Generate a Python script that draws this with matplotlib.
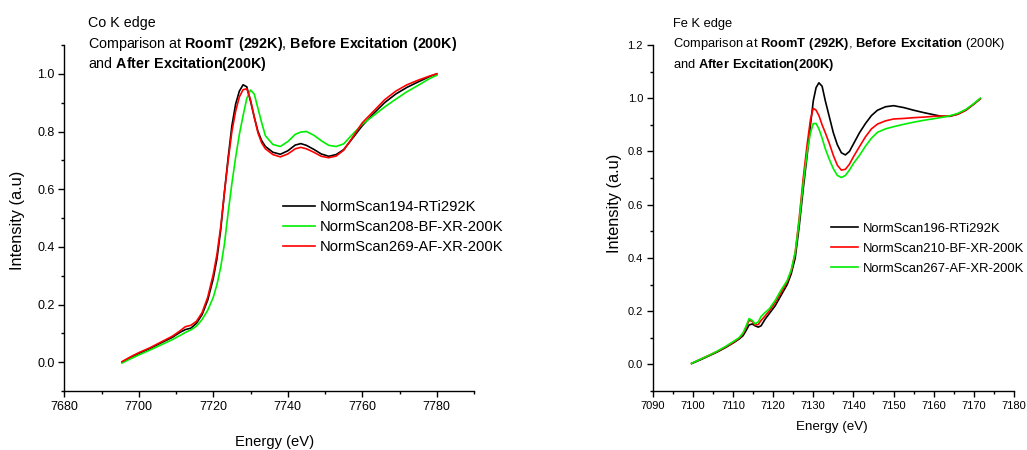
import matplotlib
matplotlib.use("Agg")
import matplotlib.pyplot as plt
from matplotlib.ticker import MultipleLocator

# Co K edge data
co_energy = [7695.5, 7698, 7700, 7703, 7706, 7709, 7711, 7712.5, 7714, 7715.5,
             7717, 7718.5, 7720, 7721, 7722, 7723, 7724, 7725, 7726, 7727,
             7728, 7729, 7730, 7731, 7732, 7733, 7734, 7736, 7738, 7740,
             7742, 7743.5, 7745, 7747, 7749, 7751, 7753, 7755, 7757, 7760,
             7763, 7766, 7769, 7772, 7775, 7778, 7780]
co_rt = [0.000, 0.018, 0.030, 0.047, 0.067, 0.086, 0.103, 0.113, 0.118, 0.135,
         0.165, 0.215, 0.290, 0.360, 0.460, 0.590, 0.710, 0.820, 0.895, 0.940,
         0.962, 0.955, 0.905, 0.850, 0.800, 0.768, 0.748, 0.728, 0.721, 0.733,
         0.753, 0.758, 0.752, 0.738, 0.722, 0.714, 0.720, 0.737, 0.770, 0.820,
         0.862, 0.900, 0.930, 0.953, 0.972, 0.990, 1.000]
co_bf = [-0.003, 0.013, 0.025, 0.042, 0.060, 0.078, 0.092, 0.103, 0.112, 0.125,
         0.148, 0.180, 0.225, 0.270, 0.330, 0.410, 0.520, 0.620, 0.710, 0.790,
         0.855, 0.915, 0.944, 0.930, 0.880, 0.830, 0.785, 0.755, 0.748, 0.765,
         0.790, 0.798, 0.800, 0.787, 0.768, 0.752, 0.748, 0.757, 0.785, 0.825,
         0.855, 0.885, 0.912, 0.938, 0.960, 0.983, 0.995]
co_af = [0.002, 0.020, 0.033, 0.050, 0.070, 0.090, 0.108, 0.123, 0.128, 0.142,
         0.172, 0.225, 0.305, 0.375, 0.470, 0.590, 0.700, 0.800, 0.870, 0.920,
         0.945, 0.948, 0.910, 0.850, 0.795, 0.760, 0.740, 0.720, 0.712, 0.722,
         0.740, 0.745, 0.740, 0.728, 0.714, 0.709, 0.715, 0.735, 0.772, 0.830,
         0.870, 0.910, 0.940, 0.962, 0.978, 0.992, 1.000]
co_labels = ["NormScan194-RTi292K", "NormScan208-BF-XR-200K", "NormScan269-AF-XR-200K"]

# Fe K edge data
fe_energy = [7099.7, 7102, 7104, 7106, 7108, 7110, 7111.5, 7112.5, 7113.3, 7114,
             7114.8, 7115.5, 7116.3, 7117, 7118, 7119, 7120.5, 7122, 7123.5, 7124.5,
             7125.5, 7126.5, 7127.5, 7128.5, 7129.3, 7130, 7130.7, 7131.4, 7132.2, 7133,
             7134, 7135, 7136, 7137, 7138, 7139, 7140, 7141.5, 7143, 7144.5,
             7146, 7148, 7150, 7152.5, 7155, 7157.5, 7160, 7162, 7164, 7166,
             7168, 7170, 7171.6]
fe_rt = [0.003, 0.018, 0.032, 0.046, 0.062, 0.080, 0.095, 0.108, 0.128, 0.148,
         0.152, 0.145, 0.140, 0.145, 0.170, 0.190, 0.220, 0.260, 0.300, 0.340,
         0.400, 0.520, 0.660, 0.790, 0.900, 0.990, 1.040, 1.058, 1.045, 0.990,
         0.930, 0.870, 0.825, 0.795, 0.787, 0.800, 0.828, 0.870, 0.905, 0.935,
         0.955, 0.968, 0.972, 0.965, 0.955, 0.946, 0.938, 0.932, 0.932, 0.940,
         0.955, 0.978, 0.998]
fe_bf = [0.004, 0.020, 0.034, 0.048, 0.064, 0.082, 0.098, 0.115, 0.140, 0.165,
         0.162, 0.148, 0.150, 0.165, 0.182, 0.200, 0.232, 0.270, 0.310, 0.350,
         0.420, 0.550, 0.700, 0.830, 0.920, 0.962, 0.955, 0.935, 0.900, 0.870,
         0.830, 0.785, 0.748, 0.730, 0.733, 0.752, 0.780, 0.818, 0.855, 0.885,
         0.903, 0.915, 0.922, 0.924, 0.927, 0.929, 0.932, 0.933, 0.933, 0.940,
         0.955, 0.978, 0.998]
fe_af = [0.004, 0.020, 0.034, 0.049, 0.066, 0.085, 0.100, 0.118, 0.145, 0.172,
         0.165, 0.152, 0.160, 0.180, 0.195, 0.208, 0.240, 0.280, 0.315, 0.355,
         0.420, 0.540, 0.680, 0.800, 0.870, 0.905, 0.905, 0.885, 0.850, 0.810,
         0.770, 0.735, 0.710, 0.702, 0.710, 0.730, 0.755, 0.785, 0.820, 0.850,
         0.872, 0.885, 0.893, 0.902, 0.910, 0.917, 0.923, 0.928, 0.934, 0.943,
         0.958, 0.980, 1.000]
fe_labels = ["NormScan196-RTi292K", "NormScan210-BF-XR-200K", "NormScan267-AF-XR-200K"]

BLACK, GREEN, RED = "#000000", "#00ee00", "#ff0000"


def style_axes(ax, xmaj, xmin, tick_fs):
    for side in ("top", "right"):
        ax.spines[side].set_visible(False)
    for side in ("left", "bottom"):
        ax.spines[side].set_linewidth(1.0)
    ax.xaxis.set_major_locator(MultipleLocator(xmaj))
    ax.xaxis.set_minor_locator(MultipleLocator(xmin))
    ax.yaxis.set_major_locator(MultipleLocator(0.2))
    ax.yaxis.set_minor_locator(MultipleLocator(0.1))
    ax.yaxis.set_major_formatter(plt.FormatStrFormatter("%.1f"))
    ax.tick_params(which="major", direction="out", length=4, width=1.0,
                   labelsize=tick_fs, pad=3)
    ax.tick_params(which="minor", direction="out", length=2.5, width=1.0)


def main():
    plt.rcParams["font.family"] = ["Liberation Sans", "DejaVu Sans"]
    plt.rcParams["mathtext.fontset"] = "custom"
    plt.rcParams["mathtext.rm"] = "Liberation Sans"
    plt.rcParams["mathtext.bf"] = "Liberation Sans:bold"

    fig = plt.figure(figsize=(10.27, 4.5), dpi=100)
    W, H = 1027, 450

    # ---- Co K edge ----
    ax1 = fig.add_axes([64.3 / W, 1 - 391 / H, (474 - 64.3) / W, (391 - 45) / H])
    ax1.plot(co_energy, co_rt, color=BLACK, lw=1.2, label=co_labels[0])
    ax1.plot(co_energy, co_bf, color=GREEN, lw=1.2, label=co_labels[1])
    ax1.plot(co_energy, co_af, color=RED, lw=1.2, label=co_labels[2])
    ax1.set_xlim(7680, 7790)
    ax1.set_ylim(-0.1, 1.1)
    style_axes(ax1, 20, 10, 9)
    ax1.set_xlabel("Energy (eV)", fontsize=10.6, va="top")
    ax1.xaxis.set_label_coords(0.512, -0.127)
    ax1.set_ylabel("Intensity (a.u)", fontsize=11.8)
    ax1.yaxis.set_label_coords(-0.096, 0.494)
    ax1.legend(loc="upper left", bbox_to_anchor=(0.534, 0.552), frameon=False,
               fontsize=10.6, borderpad=0, borderaxespad=0, handlelength=2.18,
               handletextpad=0.34, labelspacing=0.4)

    fig.text(88 / W, 1 - 27.3 / H, "Co K edge", fontsize=10.3, va="baseline")
    fig.text(88 / W, 1 - 48.3 / H,
             r"Comparison at $\bf{RoomT\ (292K)}$, $\bf{Before\ Excitation\ (200K)}$",
             fontsize=10.3, va="baseline")
    fig.text(88 / W, 1 - 68.3 / H, r"and $\bf{After\ Excitation(200K)}$",
             fontsize=10.3, va="baseline")

    # ---- Fe K edge ----
    ax2 = fig.add_axes([652.7 / W, 1 - 391 / H, (1014 - 652.7) / W, (391 - 45) / H])
    ax2.plot(fe_energy, fe_rt, color=BLACK, lw=1.2, label=fe_labels[0])
    ax2.plot(fe_energy, fe_bf, color=RED, lw=1.2, label=fe_labels[1])
    ax2.plot(fe_energy, fe_af, color=GREEN, lw=1.2, label=fe_labels[2])
    ax2.set_xlim(7090, 7180)
    ax2.set_ylim(-0.1, 1.2)
    style_axes(ax2, 10, 5, 8)
    ax2.set_xlabel("Energy (eV)", fontsize=9.6, va="top")
    ax2.xaxis.set_label_coords(0.495, -0.086)
    ax2.set_ylabel("Intensity (a.u)", fontsize=11.8)
    ax2.yaxis.set_label_coords(-0.086, 0.543)
    ax2.legend(loc="upper left", bbox_to_anchor=(0.4927, 0.486), frameon=False,
               fontsize=9.4, borderpad=0, borderaxespad=0, handlelength=2.06,
               handletextpad=0.38, labelspacing=0.59)

    fig.text(673 / W, 1 - 26.7 / H, "Fe K edge", fontsize=9.3, va="baseline")
    fig.text(673 / W, 1 - 46.7 / H,
             r"Comparison at $\bf{RoomT\ (292K)}$, $\bf{Before\ Excitation}$ (200K)",
             fontsize=9.3, va="baseline")
    fig.text(673 / W, 1 - 67.7 / H, r"and $\bf{After\ Excitation(200K)}$",
             fontsize=9.3, va="baseline")

    fig.savefig("out.png", dpi=100)


if __name__ == "__main__":
    main()
